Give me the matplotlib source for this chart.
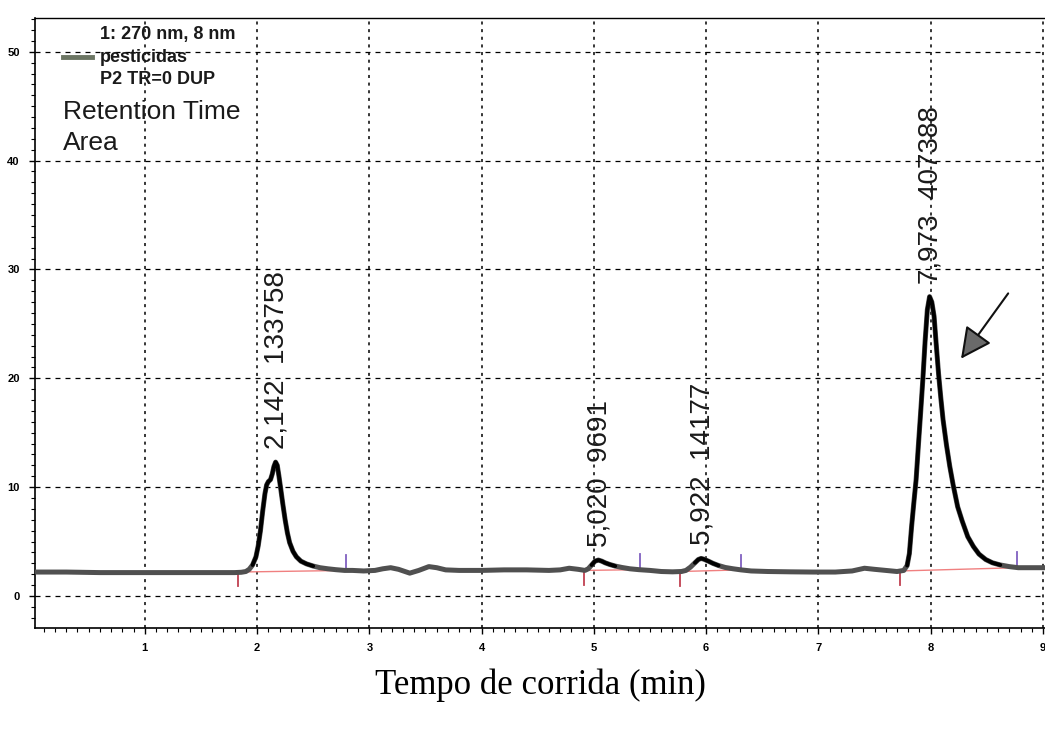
import numpy as np
import matplotlib
matplotlib.use('Agg')
import matplotlib.pyplot as plt
from matplotlib.ticker import MultipleLocator

# trace (time in min, signal)
t = [0.00, 0.30, 0.60, 1.00, 1.40, 1.80, 1.86, 1.90, 1.93, 1.96, 1.99, 2.01, 2.03, 2.05, 2.07,
     2.085, 2.10, 2.12, 2.135, 2.15, 2.165, 2.18, 2.195, 2.21, 2.23, 2.25, 2.27, 2.29, 2.32,
     2.35, 2.39, 2.44, 2.50, 2.56, 2.63, 2.70, 2.78, 2.85, 2.95, 3.05, 3.12, 3.19, 3.26, 3.36,
     3.44, 3.53, 3.60, 3.68, 3.80, 4.00, 4.20, 4.40, 4.60, 4.70, 4.78, 4.86, 4.92,
     4.95, 4.98, 5.01, 5.04, 5.07, 5.10, 5.14, 5.19, 5.25, 5.32, 5.40, 5.50, 5.60, 5.70, 5.78,
     5.82, 5.86, 5.90, 5.93, 5.955, 5.98, 6.02, 6.06, 6.11, 6.17, 6.24, 6.31, 6.40, 6.55, 6.75,
     6.95, 7.15, 7.30, 7.41, 7.50, 7.60, 7.70, 7.76,
     7.79, 7.81, 7.83, 7.85, 7.87, 7.89, 7.91, 7.93, 7.95, 7.97, 7.99, 8.01, 8.03, 8.05, 8.07,
     8.09, 8.11, 8.14, 8.17, 8.20, 8.24, 8.28, 8.33, 8.38, 8.43, 8.49, 8.55, 8.62, 8.70, 8.78,
     8.90, 9.02]
signal = [2.2, 2.2, 2.15, 2.15, 2.15, 2.15, 2.18, 2.25, 2.45, 2.85, 3.6, 4.6, 6.0, 7.8, 9.4,
          10.2, 10.5, 10.7, 11.2, 11.9, 12.3, 12.0, 11.0, 9.9, 8.4, 7.0, 5.8, 4.9, 4.1,
          3.6, 3.2, 2.95, 2.75, 2.6, 2.5, 2.42, 2.35, 2.35, 2.3, 2.35, 2.5, 2.6, 2.45, 2.1,
          2.35, 2.7, 2.6, 2.4, 2.35, 2.35, 2.4, 2.4, 2.35, 2.4, 2.55, 2.45, 2.35,
          2.5, 2.85, 3.2, 3.3, 3.2, 3.05, 2.9, 2.75, 2.62, 2.5, 2.42, 2.35, 2.25, 2.22, 2.25,
          2.35, 2.65, 3.05, 3.35, 3.45, 3.38, 3.2, 3.0, 2.8, 2.62, 2.5, 2.4, 2.3, 2.25, 2.22,
          2.2, 2.2, 2.3, 2.55, 2.45, 2.35, 2.25, 2.35,
          2.8, 3.9, 6.4, 8.6, 10.7, 13.8, 16.8, 19.9, 23.4, 26.3, 27.5, 27.0, 25.7, 23.0, 20.4,
          18.2, 16.2, 13.9, 11.9, 10.2, 8.2, 6.9, 5.45, 4.55, 3.85, 3.35, 3.05, 2.85, 2.7, 2.6,
          2.6, 2.6]

# integration baselines (start, end)
base_start_t = [1.83, 4.91, 5.77, 7.73]
base_start_y = [2.2, 2.35, 2.25, 2.3]
base_end_t = [2.79, 5.41, 6.31, 8.77]
base_end_y = [2.35, 2.42, 2.4, 2.6]

# peak labels: apex position and text
peak_t = [2.165, 5.04, 5.955, 7.99]
peak_y = [12.3, 3.3, 3.45, 27.5]
peak_labels = ['2,142  133758', '5,020  9691', '5,922  14177', '7,973  407388']

plt.rcParams['font.family'] = ['Liberation Sans', 'DejaVu Sans']

fig = plt.figure(figsize=(10.45, 7.29), dpi=100)
ax = fig.add_axes([35 / 1045, 1 - 628 / 729, 1010 / 1045, 610 / 729])

t = np.array(t)
signal = np.array(signal)

ax.plot(t, signal, color='#505050', lw=3.6, solid_capstyle='round', zorder=3)
peak_only = np.where(signal > 2.7, signal, np.nan)
ax.plot(t, peak_only, color='black', lw=2.8, solid_capstyle='round', zorder=4)

for i in range(len(base_start_t)):
    ax.plot([base_start_t[i], base_end_t[i]], [base_start_y[i], base_end_y[i]],
            color='#f08080', lw=1, zorder=2)
    ax.plot([base_start_t[i], base_start_t[i]], [base_start_y[i], base_start_y[i] - 1.3],
            color='#c04050', lw=1.3, zorder=2)
    ax.plot([base_end_t[i], base_end_t[i]], [base_end_y[i], base_end_y[i] + 1.4],
            color='#8060c0', lw=1.3, zorder=2)

for x, y, s in zip(peak_t, peak_y, peak_labels):
    ax.text(x + 0.01, y + 1.2, s, rotation=90, ha='center', va='bottom', fontsize=20,
            color='#1a1a1a', zorder=5)

# arrow pointing at the main peak
ax.annotate('', xy=(8.27, 21.8), xytext=(8.69, 27.8),
            arrowprops=dict(arrowstyle='-|>,head_length=0.8,head_width=0.4', color='#111111',
                            fc='#6a6a6a', lw=1.5, mutation_scale=24, shrinkA=0, shrinkB=0),
            zorder=5)

# legend-like header
fig.text(100 / 1045, 1 - 35 / 729, '1: 270 nm, 8 nm', fontsize=13, fontweight='bold',
         va='center', color='#1a1a1a')
fig.add_artist(plt.Line2D([63 / 1045, 92 / 1045], [1 - 57 / 729, 1 - 57 / 729],
                          color='#6b7563', lw=3.5))
fig.text(100 / 1045, 1 - 57 / 729, 'pesticidas', fontsize=13, fontweight='bold',
         va='center', color='#1a1a1a')
fig.text(100 / 1045, 1 - 80 / 729, 'P2 TR=0 DUP', fontsize=13, fontweight='bold',
         va='center', color='#1a1a1a')
fig.text(63 / 1045, 1 - 112 / 729, 'Retention Time', fontsize=19, va='center',
         color='#1a1a1a')
fig.text(63 / 1045, 1 - 143 / 729, 'Area', fontsize=19, va='center', color='#1a1a1a')

ax.set_xlim(0.022, 9.018)
ax.set_ylim(-2.94, 53.1)
ax.xaxis.set_major_locator(MultipleLocator(1))
ax.xaxis.set_minor_locator(MultipleLocator(0.1))
ax.yaxis.set_major_locator(MultipleLocator(10))
ax.yaxis.set_minor_locator(MultipleLocator(1))
ax.tick_params(which='major', length=4, width=1, labelsize=8, pad=7)
ax.tick_params(which='minor', length=3, width=0.8)
for lab in ax.get_xticklabels() + ax.get_yticklabels():
    lab.set_fontweight('bold')

ax.grid(True, which='major', axis='y', color='black', lw=0.9, linestyle=(0, (4, 4)))
ax.grid(True, which='major', axis='x', color='black', lw=1.1, linestyle=(0, (2, 3)))
ax.set_axisbelow(True)

ax.spines['right'].set_visible(False)
ax.spines['left'].set_linewidth(1.2)
ax.spines['bottom'].set_linewidth(1.2)
ax.spines['top'].set_linewidth(1.0)

fig.text(540 / 1045, 1 - 685 / 729, 'Tempo de corrida (min)', ha='center', va='center',
         fontsize=25, family='Liberation Serif')

plt.savefig('out.png', dpi=100)
